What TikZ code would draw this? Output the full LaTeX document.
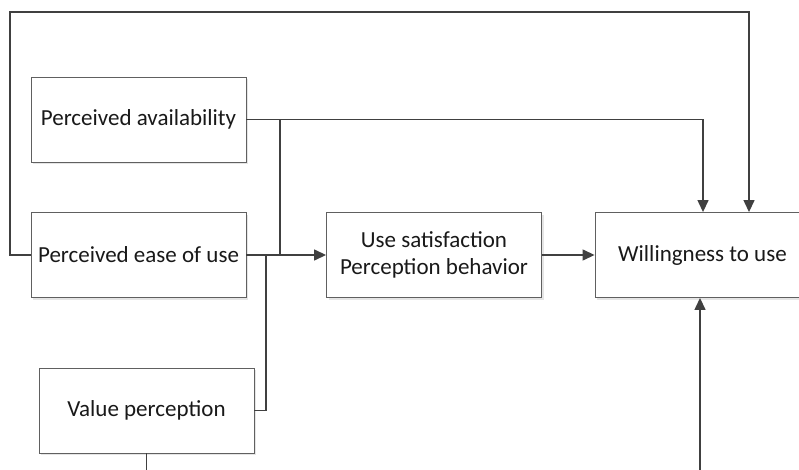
\documentclass[tikz,border=0pt]{standalone}
\usepackage{fontspec}
\setmainfont{Carlito}
\usetikzlibrary{arrows.meta,calc}
\definecolor{linec}{HTML}{404040}
\definecolor{boxc}{HTML}{606060}
\begin{document}
\begin{tikzpicture}[x=1pt,y=-1pt,
  box/.style={draw=boxc,line width=0.9pt,fill=white,minimum width=215pt,minimum height=85pt,
    align=center,inner sep=0pt,font=\fontsize{23}{27}\selectfont,text=black!90},
  conn/.style={draw=linec,line width=1.4pt},
  arr/.style={conn,-{Triangle[length=12pt,width=11pt]}}]
\useasboundingbox (0,0) rectangle (799,470);
\clip (0,0) rectangle (799,470);
\fill[white] (0,0) rectangle (799,470);
% shadows
\foreach \x/\y in {138.5/119.5,138.5/255,434/255,702.5/255,146.5/410.5}{
  \fill[black!10] (\x-105.5,\y-40.5) rectangle (\x+109.5,\y+44.5);
}
\node[box] (pa) at (138.5,119.5) {Perceived availability};
\node[box] (pe) at (138.5,255) {Perceived ease of use};
\node[box] (us) at (434,255) {Use satisfaction\\Perception behavior};
\node[box] (wu) at (702.5,255) {Willingness to use};
\node[box] (vp) at (146.5,410.5) {Value perception};
% named coordinates
\coordinate (lx) at (10,255);
\coordinate (tr) at (749,12);
\coordinate (j1) at (280,119.5);
\coordinate (j2) at (266,255);
\coordinate (vb) at (146.5,480);
\coordinate (wb) at (700,480);
% connectors
\draw[arr] (pe.west) -- (lx) |- (tr) -- (tr |- wu.north);
\draw[arr] (pa.east) -- (j1) -| ($(wu.north)+(0.5,0)$);
\draw[conn] (j1) -- (j1 |- pe.east);
\draw[arr] (pe.east) -- (us.west);
\draw[conn] (vp.east) -| (j2);
\draw[arr] (us.east) -- (wu.west);
\draw[conn] (vp.south) -- (vb);
\draw[arr] (wb) -- (wb |- wu.south);
\end{tikzpicture}
\end{document}
